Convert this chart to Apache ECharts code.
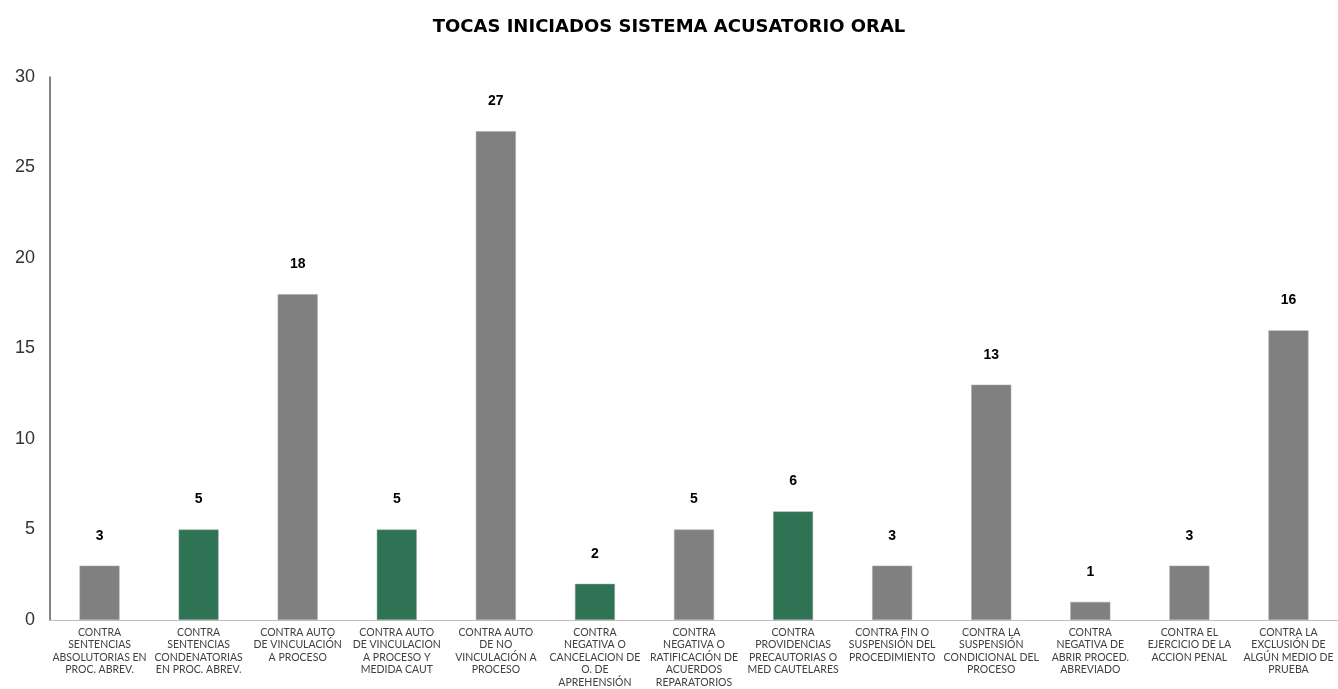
<!DOCTYPE html>
<html>
<head>
<meta charset="utf-8">
<script src="https://cdn.jsdelivr.net/npm/echarts@6/dist/echarts.min.js"></script>
<style>
  html, body { margin: 0; padding: 0; background: #fff; }
  #chart { width: 1338px; height: 689px; }
</style>
</head>
<body>
<div id="chart"></div>
<script>
// categories as they wrap under the bars
const categories = [
  'CONTRA\nSENTENCIAS\nABSOLUTORIAS EN\nPROC. ABREV.',
  'CONTRA\nSENTENCIAS\nCONDENATORIAS\nEN PROC. ABREV.',
  'CONTRA AUTO\nDE VINCULACIÓN\nA PROCESO',
  'CONTRA AUTO\nDE VINCULACION\nA PROCESO Y\nMEDIDA CAUT',
  'CONTRA AUTO\nDE NO\nVINCULACIÓN A\nPROCESO',
  'CONTRA\nNEGATIVA O\nCANCELACION DE\nO. DE\nAPREHENSIÓN',
  'CONTRA\nNEGATIVA O\nRATIFICACIÓN DE\nACUERDOS\nREPARATORIOS',
  'CONTRA\nPROVIDENCIAS\nPRECAUTORIAS O\nMED CAUTELARES',
  'CONTRA FIN O\nSUSPENSIÓN DEL\nPROCEDIMIENTO',
  'CONTRA LA\nSUSPENSIÓN\nCONDICIONAL DEL\nPROCESO',
  'CONTRA\nNEGATIVA DE\nABRIR PROCED.\nABREVIADO',
  'CONTRA EL\nEJERCICIO DE LA\nACCION PENAL',
  'CONTRA LA\nEXCLUSIÓN DE\nALGÚN MEDIO DE\nPRUEBA'
];
const tocas = [3, 5, 18, 5, 27, 2, 5, 6, 3, 13, 1, 3, 16];
// bars drawn in green
const highlighted = [1, 3, 5, 7];

const chart = echarts.init(document.getElementById('chart'));

const option = {
  animation: false,
  title: {
    text: 'TOCAS INICIADOS SISTEMA ACUSATORIO ORAL',
    left: 'center',
    top: 13,
    textStyle: {
      fontFamily: 'DejaVu Sans',
      fontWeight: 'bold',
      fontSize: 18,
      color: '#000'
    }
  },
  grid: {
    left: 50,
    right: 0,
    top: 77,
    bottom: 69
  },
  xAxis: {
    type: 'category',
    data: categories,
    axisTick: { show: false },
    axisLine: { lineStyle: { color: '#bfbfbf', width: 1 } },
    axisLabel: {
      interval: 0,
      color: '#404040',
      fontFamily: 'Lato',
      fontSize: 10.5,
      lineHeight: 12.5,
      margin: 6,
      verticalAlign: 'top'
    }
  },
  yAxis: {
    type: 'value',
    min: 0,
    max: 30,
    interval: 5,
    splitLine: { show: false },
    axisTick: { show: false },
    axisLine: { show: true, lineStyle: { color: '#595959', width: 1.5 } },
    axisLabel: {
      color: '#333',
      fontFamily: 'Liberation Sans',
      fontSize: 18,
      margin: 15
    }
  },
  series: [
    {
      name: 'TOCAS',
      type: 'bar',
      data: tocas,
      barWidth: 40,
      itemStyle: {
        color: params => highlighted.includes(params.dataIndex) ? '#2e7353' : '#808080',
        borderColor: '#a6a6a6',
        borderWidth: 0.5
      },
      label: {
        show: true,
        position: 'top',
        distance: 23,
        fontFamily: 'Liberation Sans',
        fontWeight: 'bold',
        fontSize: 14,
        color: '#000'
      }
    }
  ]
};

chart.setOption(option);
</script>
</body>
</html>
